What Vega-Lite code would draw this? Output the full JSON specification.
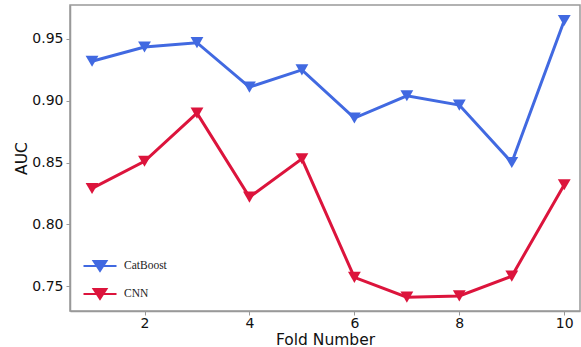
{
  "$schema": "https://vega.github.io/schema/vega-lite/v6.json",
  "width": 510,
  "height": 306,
  "autosize": {"type": "none"},
  "padding": {"left": 70, "top": 5, "right": 1, "bottom": 36},
  "background": "white",
  "config": {
    "view": {"stroke": "#999999", "strokeWidth": 1.5},
    "font": "DejaVu Sans",
    "axis": {
      "grid": false,
      "domainColor": "#999999",
      "domainWidth": 1.5,
      "tickColor": "#999999",
      "tickSize": 4,
      "labelFontSize": 14,
      "labelColor": "#111111",
      "titleFontSize": 15.5,
      "titleFontWeight": "normal",
      "titleColor": "#111111",
      "labelFont": "DejaVu Sans",
      "titleFont": "DejaVu Sans"
    }
  },
  "data": {
    "values": [
      {"fold": 1, "model": "CatBoost", "auc": 0.932},
      {"fold": 2, "model": "CatBoost", "auc": 0.9435},
      {"fold": 3, "model": "CatBoost", "auc": 0.947},
      {"fold": 4, "model": "CatBoost", "auc": 0.911},
      {"fold": 5, "model": "CatBoost", "auc": 0.925},
      {"fold": 6, "model": "CatBoost", "auc": 0.886},
      {"fold": 7, "model": "CatBoost", "auc": 0.904},
      {"fold": 8, "model": "CatBoost", "auc": 0.8965},
      {"fold": 9, "model": "CatBoost", "auc": 0.85},
      {"fold": 10, "model": "CatBoost", "auc": 0.965},
      {"fold": 1, "model": "CNN", "auc": 0.829},
      {"fold": 2, "model": "CNN", "auc": 0.851},
      {"fold": 3, "model": "CNN", "auc": 0.89},
      {"fold": 4, "model": "CNN", "auc": 0.822},
      {"fold": 5, "model": "CNN", "auc": 0.853},
      {"fold": 6, "model": "CNN", "auc": 0.757},
      {"fold": 7, "model": "CNN", "auc": 0.741},
      {"fold": 8, "model": "CNN", "auc": 0.742},
      {"fold": 9, "model": "CNN", "auc": 0.758},
      {"fold": 10, "model": "CNN", "auc": 0.832}
    ]
  },
  "encoding": {
    "x": {
      "field": "fold", "type": "quantitative",
      "scale": {"domain": [0.58, 10.3], "nice": false, "zero": false},
      "axis": {"values": [2, 4, 6, 8, 10], "title": "Fold Number", "titleY": 33, "titleBaseline": "alphabetic", "labelPadding": 1}
    },
    "y": {
      "field": "auc", "type": "quantitative",
      "scale": {"domain": [0.7298, 0.9775], "nice": false, "zero": false},
      "axis": {"values": [0.75, 0.8, 0.85, 0.9, 0.95], "format": ".2f", "title": "AUC", "titleX": -44, "titleBaseline": "alphabetic", "labelPadding": 3}
    },
    "color": {
      "field": "model", "type": "nominal",
      "scale": {"domain": ["CatBoost", "CNN"], "range": ["#4169E1", "#DC143C"]},
      "legend": {
        "title": null,
        "orient": "none",
        "legendX": 12,
        "legendY": 243,
        "symbolType": "M-1,0L1,0M-0.38,-0.3L0.38,-0.3L0,0.28Z",
        "symbolSize": 1089,
        "symbolStrokeWidth": 2.2,
        "labelFont": "Liberation Serif",
        "labelFontSize": 11.5,
        "labelColor": "#222222",
        "rowPadding": -9,
        "labelOffset": 6,
        "padding": 0
      }
    }
  },
  "layer": [
    {"mark": {"type": "line", "strokeWidth": 3}},
    {"mark": {"type": "point", "shape": "triangle-down", "filled": true, "size": 165, "opacity": 1}, "encoding": {"color": {"field": "model", "type": "nominal", "legend": null}}}
  ]
}
